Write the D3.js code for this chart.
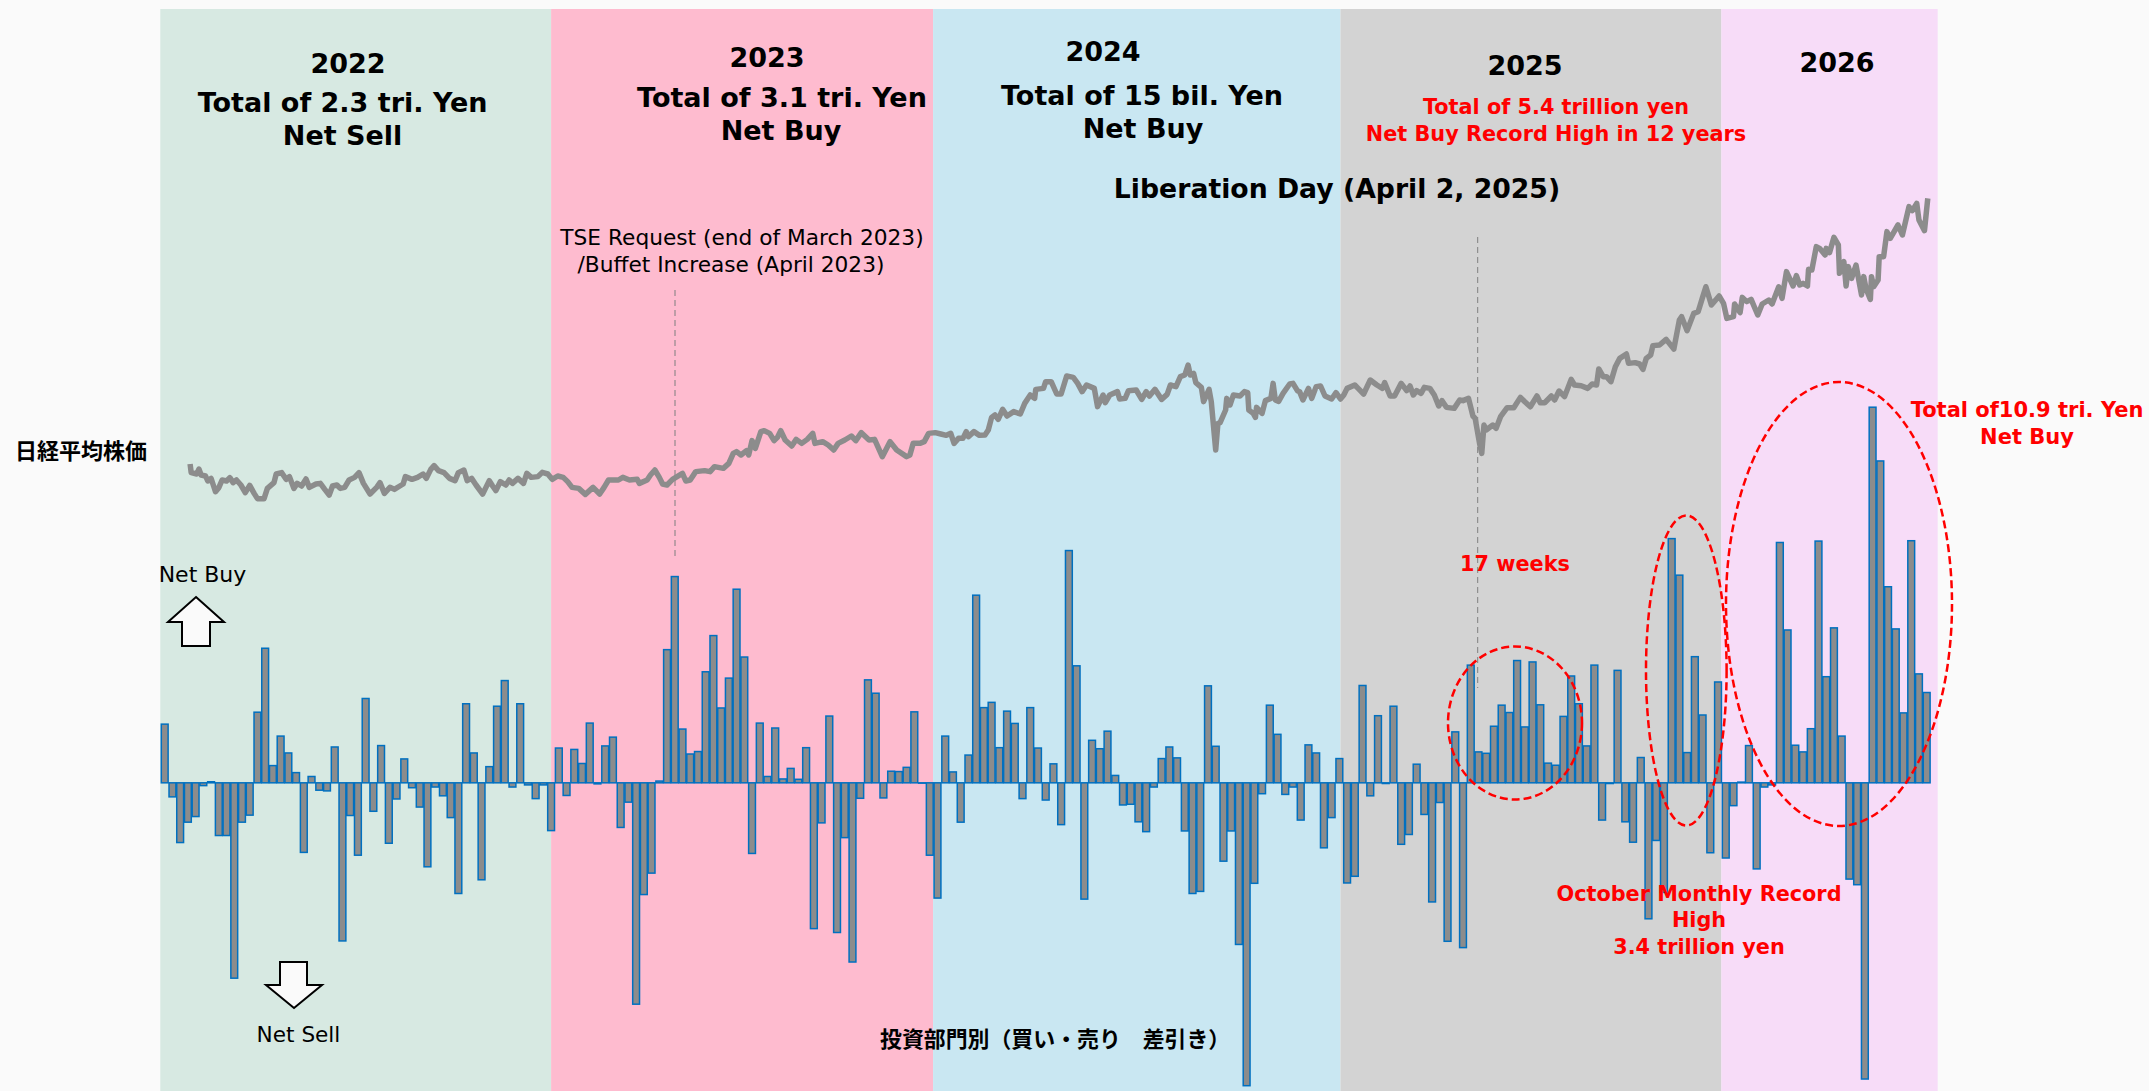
<!DOCTYPE html>
<html lang="en">
<head>
  <meta charset="UTF-8">
  <title>Nikkei 225 and foreign investor net flows</title>
  <script src="https://d3js.org/d3.v7.min.js"></script>
  <style>
    body { margin: 0; background: #fafafa; }
    svg { display: block; }
    text { font-family: "DejaVu Sans", sans-serif; }
    .cjk { font-family: "Noto Sans CJK JP", sans-serif; font-weight: 700; }
  </style>
</head>
<body>
  <div id="chart"></div>

  <script>
    // Year bands, start/end in days from the first weekly bar
    const yearNames = ["2022", "2023", "2024", "2025", "2026"];
    const yearEdges = [-4, 350, 696, 1065, 1410, 1606];
    const yearColors = ["#d7e9e2", "#febbcf", "#c9e7f2", "#d3d3d3", "#f7dcf8"];

    // Weekly net buy / net sell, billions of yen
    const weeklyFlow = [
      167, -40, -170, -112, -96, -8, 3, -150, -150, -556, -112, -92, 201, 383, 49, 133, 85, 29, -198, 18,
      -21, -23, 102, -450, -93, -206, 240, -81, 106, -172, -46, 68, -14, -69, -239, -12, -37, -99, -315, 225,
      85, -276, 46, 218, 291, -12, 225, -6, -45, -6, -136, 99, -36, 95, 55, 170, -3, 105, 130, -127,
      -55, -630, -318, -257, 5, 379, 587, 153, 82, 89, 316, 419, 213, 298, 551, 358, -201, 170, 18, 156,
      11, 41, 10, 100, -415, -114, 190, -426, -156, -510, -44, 293, 255, -43, 33, 32, 44, 202, -1, -206,
      -328, 133, 31, -112, 79, 534, 214, 229, 100, 204, 169, -45, 214, 99, -49, 54, -119, 661, 333, -331,
      121, 97, 147, 21, -63, -61, -111, -139, -12, 69, 102, 71, -137, -315, -309, 276, 104, -223, -137, -460,
      -862, -286, -31, 221, 138, -33, -12, -106, 108, 85, -185, -99, 69, -285, -266, 277, -37, 191, -2, 218,
      -175, -147, 53, -90, -339, -56, -451, 145, -469, 335, 88, 84, 161, 221, 200, 348, 159, 344, 222, 56,
      50, 189, 304, 225, 105, 335, -106, -2, 320, -111, -169, 72, -387, -164, -312, 695, 591, 86, 359, 193,
      -199, 287, -214, -65, 2, 106, -245, -12, -6, 684, 435, 107, 88, 154, 688, 302, 441, 133, -274, -290,
      -843, 1069, 916, 558, 438, 199, 689, 310, 257
    ];

    // Nikkei 225 turning points: day number and index level
    const nikkeiDays = [
      23, 24, 29, 31, 33, 37, 39, 42, 44, 46, 49, 52, 56, 59, 62, 65, 69, 73, 77, 81, 84, 90, 93, 99, 101, 106, 110, 113, 117, 120,
      124, 128, 131, 137, 141, 145, 149, 152, 156, 159, 163, 167, 172, 176, 180, 186, 192, 195, 199, 204, 208, 213, 216, 218, 224, 229, 234, 237, 241, 244,
      248, 253, 258, 263, 266, 271, 274, 278, 282, 288, 291, 294, 297, 300, 304, 309, 312, 315, 320, 325, 328, 332, 338, 342, 347, 351, 356, 361, 365, 369,
      375, 381, 388, 394, 398, 402, 411, 415, 421, 428, 430, 437, 440, 444, 448, 451, 455, 460, 469, 472, 476, 481, 489, 494, 498, 506, 511, 515, 518, 522,
      527, 529, 532, 535, 540, 543, 548, 552, 555, 558, 562, 568, 572, 577, 582, 587, 589, 596, 601, 606, 610, 616, 622, 626, 631, 638, 643, 650, 657, 663,
      672, 675, 678, 684, 688, 692, 698, 703, 708, 712, 715, 719, 723, 726, 728, 733, 738, 743, 746, 749, 752, 755, 759, 763, 769, 775, 779, 784, 788, 789,
      796, 798, 803, 808, 812, 817, 820, 823, 827, 831, 835, 842, 845, 850, 852, 856, 863, 865, 870, 873, 880, 885, 889, 892, 897, 903, 908, 911, 916, 920,
      924, 927, 929, 932, 934, 939, 941, 946, 948, 952, 954, 956, 961, 962, 965, 968, 974, 978, 981, 982, 986, 988, 989, 994, 997, 1002, 1004, 1006, 1009, 1013,
      1019, 1022, 1026, 1028, 1031, 1036, 1039, 1043, 1047, 1051, 1057, 1061, 1065, 1068, 1071, 1078, 1081, 1086, 1092, 1098, 1103, 1105, 1110, 1114, 1120, 1125, 1128, 1131, 1134, 1138,
      1141, 1146, 1150, 1154, 1157, 1161, 1168, 1173, 1176, 1181, 1185, 1187, 1191, 1193, 1195, 1197, 1203, 1206, 1210, 1216, 1222, 1228, 1232, 1237, 1243, 1246, 1250, 1256, 1259, 1263,
      1268, 1274, 1277, 1283, 1289, 1293, 1297, 1299, 1303, 1306, 1310, 1314, 1318, 1324, 1326, 1332, 1336, 1339, 1342, 1346, 1348, 1354, 1360, 1367, 1372, 1374, 1379, 1385, 1389, 1393,
      1396, 1401, 1408, 1412, 1415, 1421, 1422, 1427, 1429, 1433, 1437, 1443, 1447, 1453, 1456, 1462, 1465, 1469, 1475, 1478, 1481, 1484, 1488, 1489, 1492, 1496, 1499, 1504, 1505, 1508,
      1512, 1516, 1517, 1521, 1523, 1525, 1528, 1532, 1537, 1539, 1541, 1545, 1546, 1548, 1552, 1553, 1557, 1560, 1563, 1570, 1574, 1580, 1583, 1587, 1589, 1594, 1597
    ];
    const nikkeiLevels = [
      28630, 27680, 27530, 28080, 27420, 27310, 26760, 27050, 26320, 25590, 26030, 26870, 26760, 27130, 26580, 26870, 26320, 25480, 26280, 25400, 24820, 24820, 25950, 26580, 27530, 27680, 26940, 27240, 25950, 26500,
      26210, 26980, 26060, 26430, 26500, 25840, 25220, 26210, 26320, 25950, 26060, 26870, 27160, 27680, 26500, 25330, 26060, 26580, 25400, 26060, 25840, 26210, 26430, 27240, 26940, 27160, 27530, 27050, 28040, 28450,
      27900, 27680, 27050, 26800, 27680, 27970, 26800, 27050, 26320, 25330, 26060, 26800, 26210, 25700, 26690, 26320, 26870, 26500, 27050, 26500, 27600, 27160, 27240, 27710, 27530, 26940, 27310, 27160, 26690, 26060,
      25950, 25290, 26060, 25330, 26060, 26870, 26870, 27160, 26870, 26940, 26500, 26870, 27420, 27970, 27160, 26430, 26320, 26940, 27600, 26760, 26870, 27790, 27900, 27790, 28340, 28150, 28700, 29800, 29990, 29620,
      30100, 29620, 31200, 30350, 32190, 32300, 32000, 31200, 31560, 32300, 31270, 30610, 31340, 30900, 31340, 32000, 30900, 31090, 30720, 30170, 30900, 31270, 31710, 31200, 32080, 31270, 31340, 29440, 31090, 30170,
      29440, 29620, 30900, 30900, 31090, 32000, 32080, 31930, 31780, 32000, 30900, 31450, 31450, 32190, 31640, 32190, 31780, 31820, 32370, 33760, 34020, 33540, 34640, 33910, 34390, 34130, 35300, 36220, 35850, 36840,
      36950, 37690, 37690, 36330, 36330, 38310, 38240, 38160, 37500, 36590, 37320, 36950, 34940, 36220, 35380, 36220, 36590, 35780, 35850, 36700, 36770, 35740, 36590, 36110, 36840, 35740, 36290, 37320, 37140, 38240,
      38420, 39520, 38420, 38600, 37580, 37060, 35490, 36840, 35490, 30170, 33100, 33180, 34570, 35850, 35120, 36220, 36110, 36590, 36480, 34570, 34200, 33760, 34860, 34200, 35600, 35850, 37500, 35670, 35520, 36400,
      37430, 37500, 36700, 36590, 35670, 36950, 35850, 37140, 37210, 36110, 35780, 36480, 35780, 36220, 36950, 37320, 36950, 36330, 37870, 37320, 36950, 37580, 36110, 36110, 37500, 36700, 37210, 36220, 36700, 36400,
      37060, 36950, 36220, 35010, 35600, 34860, 34750, 35670, 35600, 35850, 33910, 33650, 30900, 29800, 32920, 32370, 32920, 32550, 33830, 34820, 34820, 35960, 35480, 34930, 36110, 35370, 35370, 36110, 35670, 36660,
      36040, 37940, 37320, 37240, 36950, 37430, 37320, 39080, 38240, 38240, 37690, 39330, 40250, 40730, 39700, 39780, 39630, 39040, 40250, 40620, 41650, 41720, 42340, 41280, 44470, 44840, 43300, 45200, 45380, 46960,
      48130, 46120, 47110, 46300, 44650, 44840, 46230, 45280, 46960, 46490, 46740, 45020, 46230, 46670, 46230, 48130, 46850, 49790, 48210, 49350, 48320, 48500, 48210, 50040, 49970, 52540, 52350, 51620, 52350, 51880,
      53560, 52720, 49600, 50890, 48210, 50340, 49050, 50520, 47220, 49240, 47950, 46740, 49240, 48140, 48870, 51440, 51440, 54190, 53450, 54920, 53820, 56940, 56500, 57300, 55470, 54300, 57850
    ];

    const width = 2149;
    const height = 1091;

    const svg = d3.select("#chart")
      .append("svg")
      .attr("width", width)
      .attr("height", height)
      .attr("viewBox", [0, 0, width, height]);

    const dayX = d3.scaleLinear().domain([0, 1603]).range([164.7, 1934.4]);
    const barX = d3.scaleBand().domain(d3.range(weeklyFlow.length)).range([160.84, 1930.55]);
    const flowY = d3.scaleLinear().domain([-862, 1069]).range([1085.7, 407.2]);
    const nikkeiY = d3.scaleLinear().domain([25000, 58000]).range([497, 197]);

    // Year bands
    svg.append("g")
      .selectAll("rect")
      .data(yearNames)
      .join("rect")
        .attr("x", (d, i) => dayX(yearEdges[i]))
        .attr("y", 9)
        .attr("width", (d, i) => dayX(yearEdges[i + 1]) - dayX(yearEdges[i]))
        .attr("height", height - 9)
        .attr("fill", (d, i) => yearColors[i]);

    // Event markers
    const dash = [[675, 290, 556], [1477.7, 237, 688]];
    svg.append("g")
      .selectAll("line")
      .data(dash)
      .join("line")
        .attr("x1", d => d[0]).attr("x2", d => d[0])
        .attr("y1", d => d[1]).attr("y2", d => d[2])
        .attr("stroke", "#7f7f7f")
        .attr("stroke-width", 1)
        .attr("stroke-dasharray", "6,4");

    // Nikkei line
    const line = d3.line()
      .x(d => dayX(d))
      .y((d, i) => nikkeiY(nikkeiLevels[i]));

    svg.append("path")
      .attr("d", line(nikkeiDays))
      .attr("fill", "none")
      .attr("stroke", "#8c8c8c")
      .attr("stroke-width", 5.5)
      .attr("stroke-linejoin", "round");

    // Weekly bars
    svg.append("g")
      .selectAll("rect")
      .data(weeklyFlow)
      .join("rect")
        .attr("x", (d, i) => barX(i) + 0.45)
        .attr("y", d => flowY(Math.max(d, 0)))
        .attr("width", barX.bandwidth() - 0.9)
        .attr("height", d => Math.abs(flowY(d) - flowY(0)))
        .attr("fill", "#8c8c8c")
        .attr("stroke", "#0070c0")
        .attr("stroke-width", 1.5);

    // Red circles
    const rings = [[1515, 723, 67, 76.5], [1686.3, 670.5, 40.3, 155], [1839, 604, 113, 222]];
    svg.append("g")
      .selectAll("ellipse")
      .data(rings)
      .join("ellipse")
        .attr("cx", d => d[0]).attr("cy", d => d[1])
        .attr("rx", d => d[2]).attr("ry", d => d[3])
        .attr("fill", "none")
        .attr("stroke", "#ff0000")
        .attr("stroke-width", 2.5)
        .attr("stroke-dasharray", "8,4");

    // Arrows
    const arrows = [
      [[196, 597], [224, 622], [210, 622], [210, 646], [182, 646], [182, 622], [168, 622]],
      [[294, 1008], [322, 985], [307, 985], [307, 962], [280, 962], [280, 985], [266, 985]]
    ];
    svg.append("g")
      .selectAll("path")
      .data(arrows)
      .join("path")
        .attr("d", d => d3.line()(d) + "Z")
        .attr("fill", "#fafafa")
        .attr("stroke", "#000")
        .attr("stroke-width", 2);

    // Labels: text, centre x, baseline y, size, weight, colour
    const labels = [
      ["2022", 348, 73, 27, 700, "#000"],
      ["Total of 2.3 tri. Yen", 342.6, 112, 27, 700, "#000"],
      ["Net Sell", 342.6, 145, 27, 700, "#000"],
      ["2023", 767, 67, 27, 700, "#000"],
      ["Total of 3.1 tri. Yen", 782, 107, 27, 700, "#000"],
      ["Net Buy", 781, 140, 27, 700, "#000"],
      ["2024", 1103, 61, 27, 700, "#000"],
      ["Total of 15 bil. Yen", 1142, 105, 27, 700, "#000"],
      ["Net Buy", 1143, 138, 27, 700, "#000"],
      ["Liberation Day (April 2, 2025)", 1337, 198, 26.7, 700, "#000"],
      ["2025", 1525, 75, 27, 700, "#000"],
      ["Total of 5.4 trillion yen", 1556, 114, 20.8, 700, "#ff0000"],
      ["Net Buy Record High in 12 years", 1556, 141, 20.8, 700, "#ff0000"],
      ["2026", 1837, 72, 27, 700, "#000"],
      ["TSE Request (end of March 2023)", 742, 245, 21.7, 400, "#000"],
      ["/Buffet Increase (April 2023)", 731, 272, 21.7, 400, "#000"],
      ["17 weeks", 1515, 571, 20.8, 700, "#ff0000"],
      ["October Monthly Record", 1699, 901, 20.8, 700, "#ff0000"],
      ["High", 1699, 927, 20.8, 700, "#ff0000"],
      ["3.4 trillion yen", 1699, 954, 20.8, 700, "#ff0000"],
      ["Total of10.9 tri. Yen", 2027, 417, 21, 700, "#ff0000"],
      ["Net Buy", 2027, 444, 21, 700, "#ff0000"],
      ["Net Buy", 202.5, 582, 22, 400, "#000"],
      ["Net Sell", 298.5, 1042, 21.6, 400, "#000"]
    ];
    svg.append("g")
      .selectAll("text")
      .data(labels)
      .join("text")
        .attr("x", d => d[1])
        .attr("y", d => d[2])
        .attr("text-anchor", "middle")
        .attr("font-size", d => d[3])
        .attr("font-weight", d => d[4])
        .attr("fill", d => d[5])
        .text(d => d[0]);

    svg.append("text")
      .attr("class", "cjk")
      .attr("x", 15).attr("y", 459)
      .attr("font-size", 22)
      .text("日経平均株価");

    svg.append("text")
      .attr("class", "cjk")
      .attr("x", 880).attr("y", 1047)
      .attr("font-size", 21.9)
      .text("投資部門別（買い・売り　差引き）");
  </script>
</body>
</html>
